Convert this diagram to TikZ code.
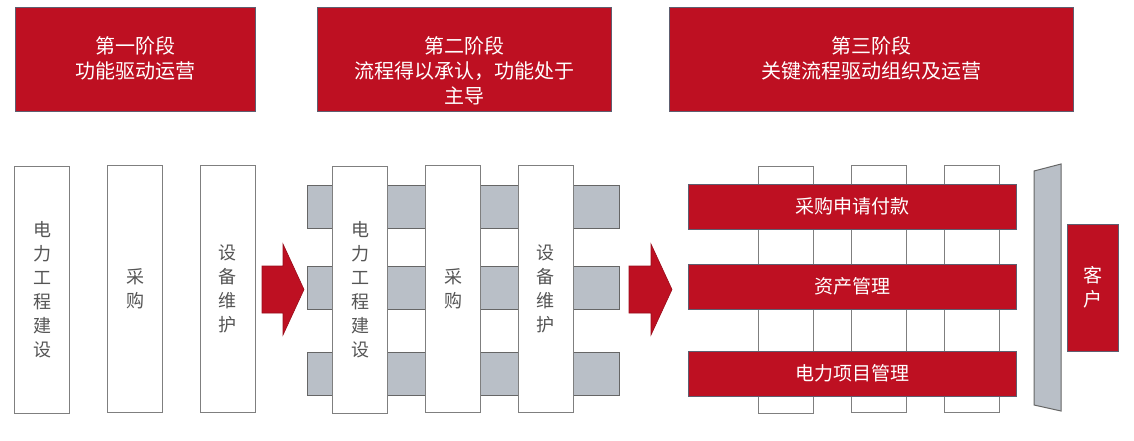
\documentclass[tikz,border=0pt]{standalone}
\usepackage{fontspec}
\newfontfamily\cjk{Noto Sans CJK SC}
\definecolor{stagered}{HTML}{BE1022}
\definecolor{bandgray}{HTML}{B9BFC7}
\definecolor{edgegray}{HTML}{7F7F7F}
\definecolor{textgray}{HTML}{555555}
\definecolor{stageedge}{HTML}{5E5E70}
\begin{document}
\begin{tikzpicture}[x=1pt, y=-1pt, line width=1pt,
stage/.style={rectangle,draw=stageedge,fill=stagered,minimum width=#1,minimum height=104pt,inner sep=0pt},
stage text/.style={anchor=north,align=center,text=white,inner sep=0pt,font=\cjk\fontsize{20}{25}\selectfont},
col/.style={rectangle,draw=edgegray,fill=white,minimum width=55pt,minimum height=247pt,inner sep=0pt,align=center,text=textgray,font=\cjk\fontsize{18}{24}\selectfont},
band/.style={rectangle,draw=edgegray!80!black,fill=bandgray,minimum width=312pt,minimum height=43pt,inner sep=0pt},
flow/.style={rectangle,draw=stageedge,fill=stagered,minimum width=328pt,minimum height=45pt,inner sep=0pt,text=white,font=\cjk\fontsize{19}{24}\selectfont},
big arrow/.style={fill=stagered,draw=stagered!80!black,line width=.6pt}]
\useasboundingbox (0,0) rectangle (1134,440);
% stages
\node[stage=240pt] (s1) at (135,59) {};
\node[stage=294pt] (s2) at (464,59) {};
\node[stage=404pt] (s3) at (871,59) {};
\node[stage text] (t1) at ([yshift=-30pt]s1.north) {第一阶段\\功能驱动运营};
\node[stage text] (t2) at ([yshift=-30pt]s2.north) {第二阶段\\流程得以承认，功能处于\\主导};
\node[stage text] (t3) at ([yshift=-30pt]s3.north) {第三阶段\\关键流程驱动组织及运营};
% stage 1
\node[col] (c11) at (42,290) {电\\力\\工\\程\\建\\设};%1
\node[col] (c12) at (135,289) {采\\购};%2
\node[col] (c13) at (227.5,289) {设\\备\\维\\护};%3
\draw[big arrow] (262,266) -- (283,266) -- (283,244) -- (304,289.5) -- (283,335) -- (283,313) -- (262,313) -- cycle;
% stage 2
\node[band] (b21) at (463,207) {};
\node[band] (b22) at (463,288) {};
\node[band] (b23) at (463,374) {};
\node[col] (c21) at (360,290) {电\\力\\工\\程\\建\\设};%1
\node[col] (c22) at (453,289) {采\\购};%2
\node[col] (c23) at (545.5,289) {设\\备\\维\\护};%3
\draw[big arrow] (629,266) -- (651,266) -- (651,244) -- (672,289.5) -- (651,335) -- (651,313) -- (629,313) -- cycle;
% stage 3
\node[col] (c31) at (785.5,290) {};
\node[col] (c32) at (878.5,289) {};
\node[col] (c33) at (971.5,289) {};
\node[flow] (f1) at (852,206.5) {采购申请付款};
\node[flow] (f2) at (852,286.5) {资产管理};
\node[flow] (f3) at (852,373.5) {电力项目管理};
\draw[draw=edgegray!80!black,fill=bandgray] (1034,171) -- (1061,164) -- (1061,411) -- (1034,405) -- cycle;
\node[rectangle,draw=stageedge,fill=stagered,minimum width=51pt,minimum height=127pt,inner sep=0pt,align=center,text=white,font=\cjk\fontsize{19}{24}\selectfont] (cust) at (1092.5,287.5) {客\\户};
\end{tikzpicture}
\end{document}
